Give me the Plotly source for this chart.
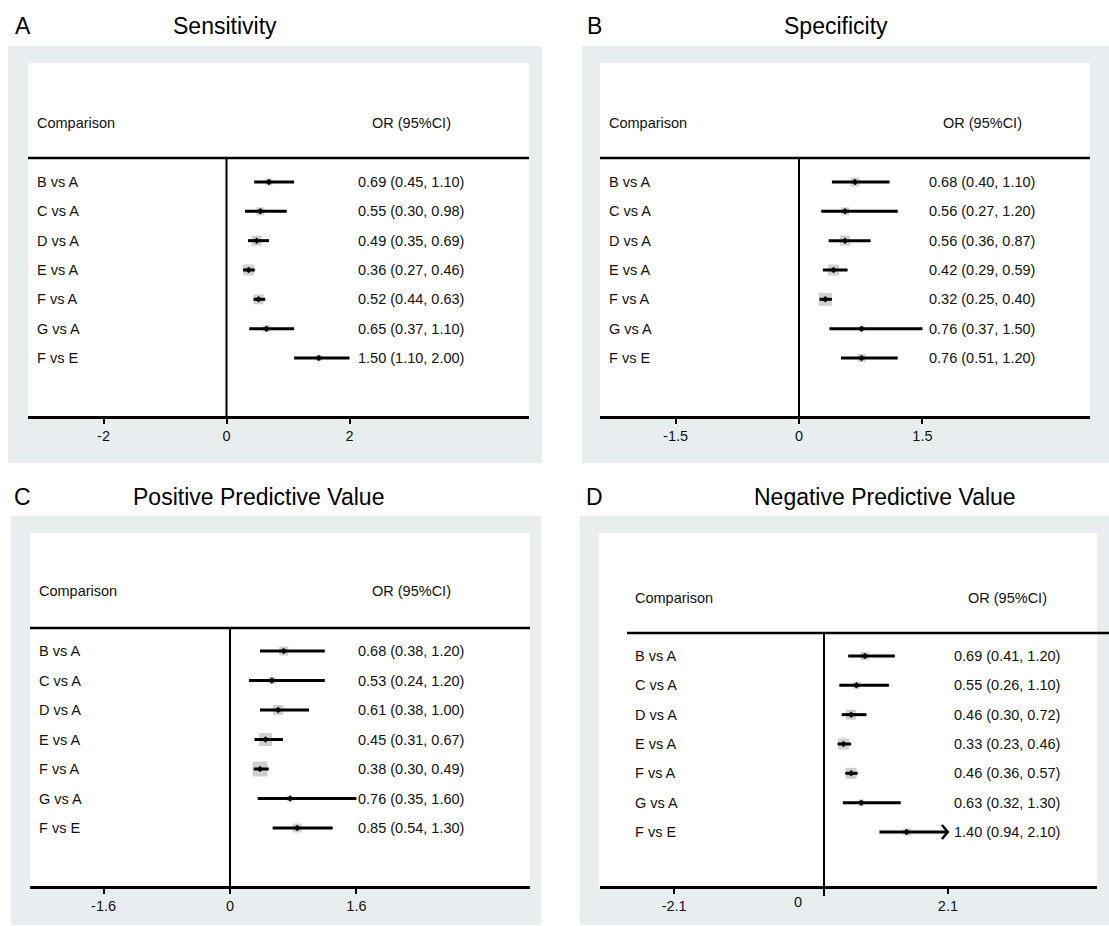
import plotly.graph_objects as go

W, H = 1109, 926
FONT = "Liberation Sans, Arial, sans-serif"

# ---------------- data ----------------
comparisons = ["B vs A", "C vs A", "D vs A", "E vs A", "F vs A", "G vs A", "F vs E"]
titles = ["Sensitivity", "Specificity", "Positive Predictive Value", "Negative Predictive Value"]
letters = ["A", "B", "C", "D"]

sens_or = [0.69, 0.55, 0.49, 0.36, 0.52, 0.65, 1.50]
sens_lo = [0.45, 0.30, 0.35, 0.27, 0.44, 0.37, 1.10]
sens_hi = [1.10, 0.98, 0.69, 0.46, 0.63, 1.10, 2.00]
sens_w = [7, 8, 10, 11, 10, 7, 6]

spec_or = [0.68, 0.56, 0.56, 0.42, 0.32, 0.76, 0.76]
spec_lo = [0.40, 0.27, 0.36, 0.29, 0.25, 0.37, 0.51]
spec_hi = [1.10, 1.20, 0.87, 0.59, 0.40, 1.50, 1.20]
spec_w = [9, 8, 10, 11, 13, 6, 8]

ppv_or = [0.68, 0.53, 0.61, 0.45, 0.38, 0.76, 0.85]
ppv_lo = [0.38, 0.24, 0.38, 0.31, 0.30, 0.35, 0.54]
ppv_hi = [1.20, 1.20, 1.00, 0.67, 0.49, 1.60, 1.30]
ppv_w = [9, 7, 10, 13, 15, 6, 9]

npv_or = [0.69, 0.55, 0.46, 0.33, 0.46, 0.63, 1.40]
npv_lo = [0.41, 0.26, 0.30, 0.23, 0.36, 0.32, 0.94]
npv_hi = [1.20, 1.10, 0.72, 0.46, 0.57, 1.30, 2.10]
npv_w = [8, 7, 10, 11, 11, 6, 7]
npv_arrow = [False, False, False, False, False, False, True]

tick_vals = [[-2, 0, 2], [-1.5, 0, 1.5], [-1.6, 0, 1.6], [-2.54, 2.1]]
tick_text = [["-2", "0", "2"], ["-1.5", "0", "1.5"], ["-1.6", "0", "1.6"], ["-2.1", "2.1"]]
extra_zero_label = [None, None, None, -0.44]   # panel D's misplaced "0" label

series = [
    (sens_or, sens_lo, sens_hi, sens_w, [False] * 7),
    (spec_or, spec_lo, spec_hi, spec_w, [False] * 7),
    (ppv_or, ppv_lo, ppv_hi, ppv_w, [False] * 7),
    (npv_or, npv_lo, npv_hi, npv_w, npv_arrow),
]

# ---------------- layout geometry (pixels) ----------------
panels = [
    dict(outer=(8, 46, 542, 463), white=(28, 63, 529, 417), ax=(28, 529), zero=226.5, ppu=61.5,
         row0=182, sp=29.33, head=123, hline=(28, 529, 158), zline_bot=417,
         labx=35, orx=411, title=(225, 26), letter=(13, 26)),
    dict(outer=(582, 46, 1109, 463), white=(600, 63, 1090, 417), ax=(600, 1090), zero=799, ppu=82.3,
         row0=182, sp=29.33, head=123, hline=(600, 1090, 158), zline_bot=417,
         labx=607, orx=982, title=(836, 26), letter=(585, 26)),
    dict(outer=(11, 516, 541, 925), white=(30, 533, 530, 887), ax=(30, 530), zero=230, ppu=79,
         row0=651, sp=29.5, head=591, hline=(30, 530, 628), zline_bot=887,
         labx=37, orx=411, title=(258, 497), letter=(12, 497)),
    dict(outer=(580, 516, 1109, 925), white=(599, 533, 1097, 887), ax=(600, 1097), zero=824, ppu=59,
         row0=656, sp=29.33, head=598, hline=(627, 1109, 633), zline_bot=896,
         labx=633, orx=1007, title=(885, 497), letter=(584, 497)),
]

BG = "#e8eef0"
SQ = "#bababa"
TXT = "#111111"


def fx(px):
    return px / W


def fy(py):
    return 1 - py / H


fig = go.Figure()
shapes = []
annotations = []
layout_axes = {}

for k, (p, (o, lo, hi, wts, arrows)) in enumerate(zip(panels, series)):
    n = k + 1
    xa = "x" if n == 1 else f"x{n}"
    ya = "y" if n == 1 else f"y{n}"
    xkey = "xaxis" if n == 1 else f"xaxis{n}"
    ykey = "yaxis" if n == 1 else f"yaxis{n}"

    # axis geometry
    x0, x1 = p["ax"]
    xr = [(x0 - p["zero"]) / p["ppu"], (x1 - p["zero"]) / p["ppu"]]
    ytop_px = p["white"][1]
    ybot_px = p["zline_bot"]
    yv = lambda px: (px - p["row0"]) / p["sp"]
    yr = [yv(ybot_px), yv(ytop_px)]
    axis_y = p["white"][3]

    layout_axes[xkey] = dict(
        domain=[fx(x0), fx(x1)], range=xr, anchor="free", position=fy(axis_y),
        showgrid=False, zeroline=False, showline=True, linecolor="black", linewidth=2.5,
        ticks="outside", ticklen=5, tickwidth=2, tickcolor="black",
        tickvals=tick_vals[k], ticktext=tick_text[k],
        tickfont=dict(family=FONT, size=14.5, color=TXT), fixedrange=True,
    )
    layout_axes[ykey] = dict(
        domain=[fy(ybot_px), fy(ytop_px)], range=yr, anchor=xa, visible=False, fixedrange=True,
    )

    # background boxes
    ox0, oy0, ox1, oy1 = p["outer"]
    shapes.append(dict(type="rect", xref="paper", yref="paper", x0=fx(ox0), x1=fx(ox1),
                       y0=fy(oy1), y1=fy(oy0), fillcolor=BG, line=dict(width=0), layer="below"))
    wx0, wy0, wx1, wy1 = p["white"]
    shapes.append(dict(type="rect", xref="paper", yref="paper", x0=fx(wx0), x1=fx(wx1),
                       y0=fy(wy1), y1=fy(wy0), fillcolor="white", line=dict(width=0), layer="below"))
    # header rule
    hx0, hx1, hy = p["hline"]
    shapes.append(dict(type="line", xref="paper", yref="paper", x0=fx(hx0), x1=fx(hx1),
                       y0=fy(hy), y1=fy(hy), line=dict(color="black", width=2.5)))
    # zero line
    shapes.append(dict(type="line", xref=xa, yref="paper", x0=0, x1=0,
                       y0=fy(hy), y1=fy(p["zline_bot"]), line=dict(color="black", width=2)))

    rows = list(range(len(comparisons)))

    # weight squares
    fig.add_trace(go.Scatter(x=o, y=rows, xaxis=xa, yaxis=ya, mode="markers",
                             marker=dict(symbol="square", size=wts, color=SQ, line=dict(width=0)),
                             hoverinfo="skip", showlegend=False))
    # CI lines
    cx, cy = [], []
    for i in rows:
        cx += [lo[i], hi[i], None]
        cy += [i, i, None]
    fig.add_trace(go.Scatter(x=cx, y=cy, xaxis=xa, yaxis=ya, mode="lines",
                             line=dict(color="black", width=3), hoverinfo="skip", showlegend=False))
    # arrow heads for truncated CIs
    axx, axy = [], []
    for i in rows:
        if arrows[i]:
            d = 6 / p["ppu"]
            axx += [hi[i] - d, hi[i], hi[i] - d, None]
            axy += [i - 0.24, i, i + 0.24, None]
    if axx:
        fig.add_trace(go.Scatter(x=axx, y=axy, xaxis=xa, yaxis=ya, mode="lines",
                                 line=dict(color="black", width=2.5), hoverinfo="skip", showlegend=False))
    # point estimates
    fig.add_trace(go.Scatter(x=o, y=rows, xaxis=xa, yaxis=ya, mode="markers",
                             marker=dict(symbol="diamond", size=5, color="black"),
                             hoverinfo="skip", showlegend=False))

    # texts
    tf = dict(family=FONT, size=14.5, color=TXT)
    annotations.append(dict(text="Comparison", xref="paper", yref="paper", x=fx(p["labx"]),
                            y=fy(p["head"]), xanchor="left", yanchor="middle", showarrow=False, font=tf))
    annotations.append(dict(text="OR (95%CI)", xref="paper", yref="paper", x=fx(p["orx"]),
                            y=fy(p["head"]), xanchor="center", yanchor="middle", showarrow=False, font=tf))
    for i in rows:
        annotations.append(dict(text=comparisons[i], xref="paper", yref=ya, x=fx(p["labx"]), y=i,
                                xanchor="left", yanchor="middle", showarrow=False, font=tf))
        annotations.append(dict(text=f"{o[i]:.2f} ({lo[i]:.2f}, {hi[i]:.2f})", xref="paper", yref=ya,
                                x=fx(p["orx"]), y=i, xanchor="center", yanchor="middle",
                                showarrow=False, font=tf))
    if extra_zero_label[k] is not None:
        annotations.append(dict(text="0", xref=xa, yref="paper", x=extra_zero_label[k],
                                y=fy(axis_y + 15), xanchor="center", yanchor="middle",
                                showarrow=False, font=tf))
    # title and letter
    tx, ty = p["title"]
    annotations.append(dict(text=titles[k], xref="paper", yref="paper", x=fx(tx), y=fy(ty),
                            xanchor="center", yanchor="middle", showarrow=False,
                            font=dict(family=FONT, size=23, color="black")))
    lx, ly = p["letter"]
    annotations.append(dict(text=letters[k], xref="paper", yref="paper", x=fx(lx), y=fy(ly),
                            xanchor="left", yanchor="middle", showarrow=False,
                            font=dict(family=FONT, size=23, color="black")))

fig.update_layout(
    width=W, height=H, margin=dict(l=0, r=0, t=0, b=0),
    paper_bgcolor="white", plot_bgcolor="rgba(0,0,0,0)",
    shapes=shapes, annotations=annotations, showlegend=False,
    **layout_axes,
)

fig.write_html("out.html", config={"displayModeBar": False},
               post_script="document.body.style.margin='0';document.body.style.overflow='hidden';")
